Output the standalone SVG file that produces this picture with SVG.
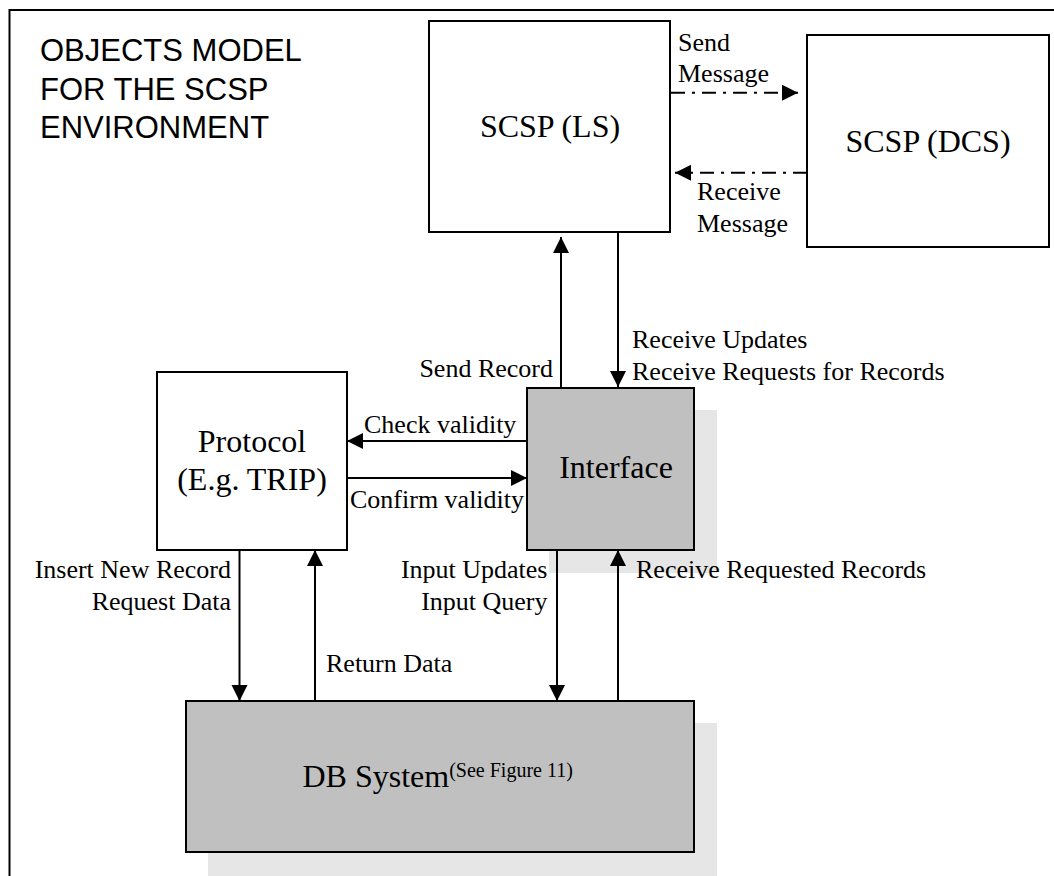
<svg xmlns="http://www.w3.org/2000/svg" width="1054" height="876" viewBox="0 0 1054 876">
<style>
.box{fill:#ffffff;stroke:#000;stroke-width:2}
.gbox{fill:#c0c0c0;stroke:#000;stroke-width:2}
.shadow{fill:#e6e6e6;stroke:none}
.big{font-family:"Liberation Serif","Times New Roman",serif;font-size:32px;fill:#000}
.lbl{font-family:"Liberation Serif","Times New Roman",serif;font-size:26px;fill:#000}
.title{font-family:"Liberation Sans",Arial,sans-serif;font-size:31px;fill:#000}
.conn{fill:none;stroke:#000;stroke-width:2}
.dd{stroke-dasharray:14 7 3 7}
</style>
<defs>
<marker id="ah" markerUnits="userSpaceOnUse" markerWidth="17" markerHeight="17" refX="16" refY="8" orient="auto">
<path d="M0,0 L16,8 L0,16 Z" fill="#000"/>
</marker>
</defs>
<rect width="1054" height="876" fill="#ffffff"/>
<rect id="frame" x="9.5" y="10" width="1070" height="900" fill="none" stroke="#000" stroke-width="2"/>
<g id="title">
<text class="title" x="40" y="61">OBJECTS MODEL</text>
<text class="title" x="40" y="100">FOR THE SCSP</text>
<text class="title" x="40" y="137.5">ENVIRONMENT</text>
</g>
<g id="scsp-ls">
<rect class="box" x="429" y="21" width="241" height="211"/>
<text class="big" x="550" y="137" text-anchor="middle">SCSP (LS)</text>
</g>
<g id="scsp-dcs">
<rect class="box" x="807" y="35" width="242" height="212"/>
<text class="big" x="928" y="152" text-anchor="middle">SCSP (DCS)</text>
</g>
<g id="protocol">
<rect class="box" x="157" y="372" width="190" height="178"/>
<text class="big" x="252" y="452" text-anchor="middle">Protocol</text>
<text class="big" x="252" y="490" text-anchor="middle">(E.g. TRIP)</text>
</g>
<g id="interface">
<rect class="shadow" x="549" y="410" width="168" height="163"/>
<rect class="gbox" x="527" y="388" width="167" height="162"/>
<text class="big" x="616" y="478" text-anchor="middle">Interface</text>
</g>
<g id="db-system">
<rect class="shadow" x="208" y="723" width="509" height="160"/>
<rect class="gbox" x="186" y="701" width="508" height="151"/>
<text class="big" x="302.5" y="787">DB System<tspan font-size="20" dy="-10">(See Figure 11)</tspan></text>
</g>
<g id="connectors">
<line class="conn dd" x1="671" y1="92.7" x2="798" y2="92.7" marker-end="url(#ah)"/>
<line class="conn dd" x1="807" y1="172.7" x2="675" y2="172.7" marker-end="url(#ah)"/>
<line class="conn" x1="561" y1="388" x2="561" y2="237" marker-end="url(#ah)"/>
<line class="conn" x1="618" y1="232" x2="618" y2="387" marker-end="url(#ah)"/>
<line class="conn" x1="527" y1="441" x2="347" y2="441" marker-end="url(#ah)"/>
<line class="conn" x1="347" y1="478" x2="527" y2="478" marker-end="url(#ah)"/>
<line class="conn" x1="239.5" y1="550" x2="239.5" y2="701" marker-end="url(#ah)"/>
<line class="conn" x1="315" y1="701" x2="315" y2="550" marker-end="url(#ah)"/>
<line class="conn" x1="557" y1="550" x2="557" y2="701" marker-end="url(#ah)"/>
<line class="conn" x1="618" y1="701" x2="618" y2="550" marker-end="url(#ah)"/>
</g>
<g id="labels">
<text class="lbl" x="678" y="51">Send</text>
<text class="lbl" x="678" y="82">Message</text>
<text class="lbl" x="697" y="200">Receive</text>
<text class="lbl" x="697" y="232">Message</text>
<text class="lbl" x="553" y="377" text-anchor="end">Send Record</text>
<text class="lbl" x="632" y="348">Receive Updates</text>
<text class="lbl" x="632" y="380">Receive Requests for Records</text>
<text class="lbl" x="364" y="433">Check validity</text>
<text class="lbl" x="350" y="508">Confirm validity</text>
<text class="lbl" x="231" y="578" text-anchor="end">Insert New Record</text>
<text class="lbl" x="231" y="610" text-anchor="end">Request Data</text>
<text class="lbl" x="547.5" y="578" text-anchor="end">Input Updates</text>
<text class="lbl" x="547.5" y="610" text-anchor="end">Input Query</text>
<text class="lbl" x="636" y="578">Receive Requested Records</text>
<text class="lbl" x="326" y="672">Return Data</text>
</g>
</svg>
